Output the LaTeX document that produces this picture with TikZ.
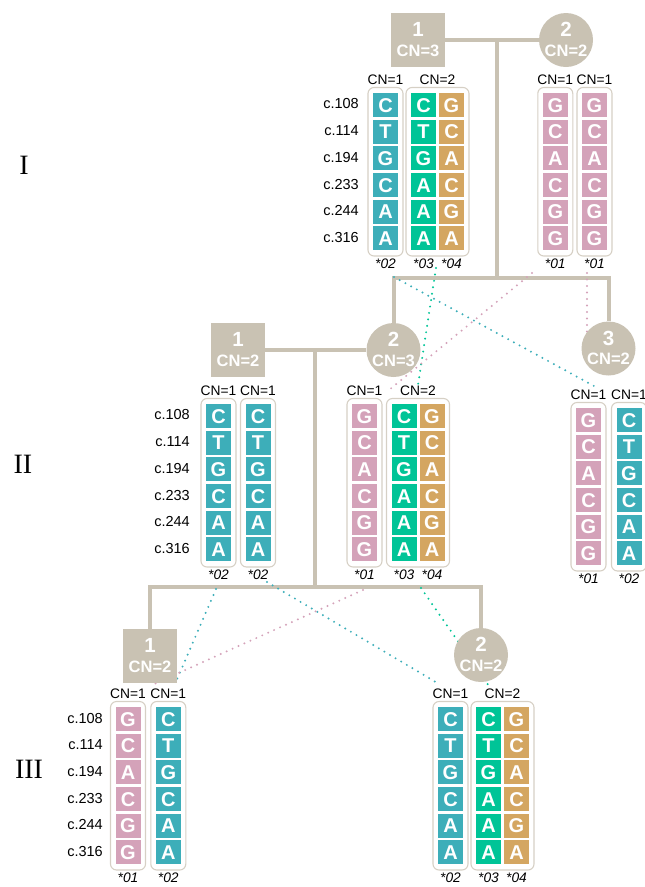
\documentclass[tikz,border=0pt]{standalone}
\usepackage{fontspec}
\setmainfont{Liberation Sans}
\newfontfamily\numeralfont{Liberation Serif}
\usetikzlibrary{calc}

\definecolor{pedgray}{HTML}{C9C2B3}
\definecolor{boxgray}{HTML}{D6D0C5}
\definecolor{teal02}{HTML}{3DAEB9}
\definecolor{green03}{HTML}{00C497}
\definecolor{tan04}{HTML}{D4A661}
\definecolor{pink01}{HTML}{D4A2B9}

\pgfdeclarelayer{background}
\pgfsetlayers{background,main}

\tikzset{
  pedline/.style={draw=pedgray, line width=4pt},
  male/.style={rectangle, fill=pedgray, minimum size=54pt, inner sep=0pt},
  female/.style={circle, fill=pedgray, minimum size=54pt, inner sep=0pt},
  idnum/.style={text=white, font=\fontsize{20.5}{20.5}\selectfont\bfseries, inner sep=0pt},
  idcn/.style={text=white, font=\fontsize{16.5}{16.5}\selectfont\bfseries, inner sep=0pt},
  cell/.style={rectangle, minimum width=25pt, minimum height=24pt, inner sep=0pt,
    text=white, text height=14.3pt, text depth=0pt,
    font=\fontsize{20}{20}\selectfont\bfseries},
  allelebox/.style={draw=boxgray, line width=1.1pt, rounded corners=6pt},
  cnlabel/.style={font=\fontsize{13.8}{13.8}\selectfont, inner sep=0pt},
  starlabel/.style={font=\fontsize{13.8}{13.8}\selectfont\itshape, inner sep=0pt},
  poslabel/.style={font=\fontsize{14.5}{14.5}\selectfont, inner sep=0pt, anchor=east},
  genlabel/.style={font=\numeralfont\fontsize{28}{28}\selectfont, inner sep=0pt},
  inherit/.style={line width=2.2pt, line cap=round, dash pattern=on 0pt off 6.5pt},
}

% pedigree symbol with its number and copy number
\newcommand\pedperson[6]{%
  \node[#2] (#1) at (#3,#4) {};
  \node[idnum] (#1-id) at ($(#1.center)+(0,-10.5)$) {#5};
  \node[idcn] (#1-cn) at ($(#1.center)+(0,10.5)$) {CN=#6};
}
% one haplotype column of six bases: name, x, top, colour, bases
\newcommand\gcolumn[5]{%
  \foreach \b [count=\k] in {#5}{
    \node[cell, fill=#4] (#1-\k) at ({#2},{#3+12+(\k-1)*26.67}) {\b};
  }
}
% rounded frame around the columns of one copy: left x, right x, top
\newcommand\abox[3]{%
  \draw[allelebox] ({#1},{#3-5.5}) rectangle ({#2},{#3+163});
}
% variant position labels: name prefix, right x, top
\newcommand\positions[3]{%
  \foreach \p [count=\k] in {c.108,c.114,c.194,c.233,c.244,c.316}{
    \node[poslabel] (#1-\k) at ({#2},{#3+11+(\k-1)*26.67}) {\p};
  }
}

\begin{document}
\begin{tikzpicture}[x=1pt,y=-1pt]
\useasboundingbox (0,0) rectangle (645,887);

% generation numerals
\node[genlabel] (genI) at (24,165) {I};
\node[genlabel] (genII) at (23,464) {II};
\node[genlabel] (genIII) at (29,769) {III};

% ---------------- pedigree symbols
\pedperson{I1}{male}{418}{40}{1}{3}
\pedperson{I2}{female}{566}{40}{2}{2}
\pedperson{II1}{male}{238}{350}{1}{2}
\pedperson{II2}{female}{393.5}{350}{2}{3}
\pedperson{II3}{female}{608.5}{348.5}{3}{2}
\pedperson{III1}{male}{150}{656}{1}{2}
\pedperson{III2}{female}{481}{655}{2}{2}

\coordinate (mI) at (497,40);
\coordinate (sI) at (497,278);
\coordinate (mII) at (315,350);
\coordinate (sII) at (315,587);

\begin{pgfonlayer}{background}
  \draw[pedline] (I1.east) -- (I2.west);
  \draw[pedline] (mI) -- (sI);
  \draw[pedline] (II2.north) |- (sI) -| (II3.north);
  \draw[pedline] (II1.east) -- (II2.west);
  \draw[pedline] (mII) -- (sII);
  \draw[pedline] (III1.north) |- (sII) -| (III2.north);
\end{pgfonlayer}

% ---------------- generation I
\positions{posI}{359}{93}
% I-1
\abox{368}{403}{93}
\abox{406}{469}{93}
\node[cnlabel] (I1c1) at (385.5,80) {CN=1};
\node[cnlabel] (I1c2) at (437.5,80) {CN=2};
\gcolumn{I1a}{385.5}{93}{teal02}{C,T,G,C,A,A}
\gcolumn{I1b}{423.5}{93}{green03}{C,T,G,A,A,A}
\gcolumn{I1c}{451.5}{93}{tan04}{G,C,A,C,G,A}
\node[starlabel] (I1sa) at (385.5,264) {*02};
\node[starlabel] (I1sb) at (423.5,264) {*03};
\node[starlabel] (I1sc) at (451.5,264) {*04};
% I-2
\abox{537.8}{572.8}{93}
\abox{577}{612}{93}
\node[cnlabel] (I2c1) at (555.3,80) {CN=1};
\node[cnlabel] (I2c2) at (594.5,80) {CN=1};
\gcolumn{I2a}{555.3}{93}{pink01}{G,C,A,C,G,G}
\gcolumn{I2b}{594.5}{93}{pink01}{G,C,A,C,G,G}
\node[starlabel] (I2sa) at (555.3,264) {*01};
\node[starlabel] (I2sb) at (594.5,264) {*01};

% ---------------- generation II
\positions{posII}{190}{404}
% II-1
\abox{201}{236}{404}
\abox{240.5}{275.5}{404}
\node[cnlabel] (II1c1) at (218.5,391) {CN=1};
\node[cnlabel] (II1c2) at (258,391) {CN=1};
\gcolumn{II1a}{218.5}{404}{teal02}{C,T,G,C,A,A}
\gcolumn{II1b}{258}{404}{teal02}{C,T,G,C,A,A}
\node[starlabel] (II1sa) at (218.5,575) {*02};
\node[starlabel] (II1sb) at (258,575) {*02};
% II-2
\abox{347}{382}{404}
\abox{386.5}{449.5}{404}
\node[cnlabel] (II2c1) at (364.5,391) {CN=1};
\node[cnlabel] (II2c2) at (418,391) {CN=2};
\gcolumn{II2a}{364.5}{404}{pink01}{G,C,A,C,G,G}
\gcolumn{II2b}{404}{404}{green03}{C,T,G,A,A,A}
\gcolumn{II2c}{432}{404}{tan04}{G,C,A,C,G,A}
\node[starlabel] (II2sa) at (364.5,575) {*01};
\node[starlabel] (II2sb) at (404,575) {*03};
\node[starlabel] (II2sc) at (432,575) {*04};
% II-3
\abox{571}{606}{408}
\abox{611.5}{646.5}{408}
\node[cnlabel] (II3c1) at (588.5,395) {CN=1};
\node[cnlabel] (II3c2) at (629,395) {CN=1};
\gcolumn{II3a}{588.5}{408}{pink01}{G,C,A,C,G,G}
\gcolumn{II3b}{629}{408}{teal02}{C,T,G,C,A,A}
\node[starlabel] (II3sa) at (588.5,579) {*01};
\node[starlabel] (II3sb) at (629,579) {*02};

% ---------------- generation III
\positions{posIII}{103}{707}
% III-1
\abox{110.5}{145.5}{707}
\abox{150.8}{185.8}{707}
\node[cnlabel] (III1c1) at (128,694) {CN=1};
\node[cnlabel] (III1c2) at (168.3,694) {CN=1};
\gcolumn{III1a}{128}{707}{pink01}{G,C,A,C,G,G}
\gcolumn{III1b}{168.3}{707}{teal02}{C,T,G,C,A,A}
\node[starlabel] (III1sa) at (128,878) {*01};
\node[starlabel] (III1sb) at (168.3,878) {*02};
% III-2
\abox{433}{468}{707}
\abox{471}{534}{707}
\node[cnlabel] (III2c1) at (450.5,694) {CN=1};
\node[cnlabel] (III2c2) at (502.5,694) {CN=2};
\gcolumn{III2a}{450.5}{707}{teal02}{C,T,G,C,A,A}
\gcolumn{III2b}{488.5}{707}{green03}{C,T,G,A,A,A}
\gcolumn{III2c}{516.5}{707}{tan04}{G,C,A,C,G,A}
\node[starlabel] (III2sa) at (450.5,878) {*02};
\node[starlabel] (III2sb) at (488.5,878) {*03};
\node[starlabel] (III2sc) at (516.5,878) {*04};

% ---------------- transmission of haplotypes
\coordinate (tIfrom) at (394,277);   \coordinate (tIto) at (594,386);
\coordinate (gIfrom) at (436,268);   \coordinate (gIto) at (418,385);
\coordinate (pIfrom) at (532,273);   \coordinate (pIto) at (389,390);
\coordinate (qIfrom) at (587,273);   \coordinate (qIto) at (587,345);
\coordinate (tIIfrom) at (216,589);  \coordinate (tIIto) at (175,684);
\coordinate (uIIfrom) at (267,582);  \coordinate (uIIto) at (439,684);
\coordinate (pIIfrom) at (363,590);  \coordinate (pIIto) at (152,685);
\coordinate (gIIfrom) at (421,588);  \coordinate (gIIto) at (489,686);

\begin{pgfonlayer}{background}
  \draw[inherit, teal02] (tIfrom) -- (tIto);
  \draw[inherit, green03] (gIfrom) -- (gIto);
  \draw[inherit, pink01] (pIfrom) -- (pIto);
  \draw[inherit, pink01] (qIfrom) -- (qIto);
  \draw[inherit, teal02] (tIIfrom) -- (tIIto);
  \draw[inherit, teal02] (uIIfrom) -- (uIIto);
  \draw[inherit, pink01] (pIIfrom) -- (pIIto);
  \draw[inherit, green03] (gIIfrom) -- (gIIto);
\end{pgfonlayer}
\end{tikzpicture}
\end{document}
